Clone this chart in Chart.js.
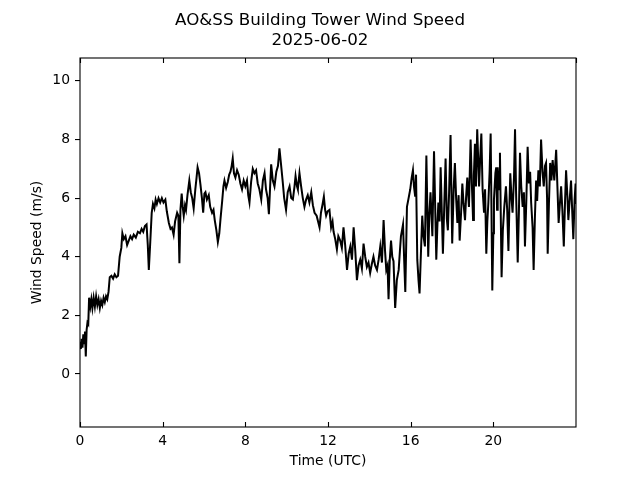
<!DOCTYPE html>
<html>
<head>
<meta charset="utf-8">
<script src="https://cdn.jsdelivr.net/npm/chart.js@4.4.0/dist/chart.umd.min.js"></script>
<style>
html, body { margin: 0; padding: 0; background: #fff; }
</style>
</head>
<body>
<canvas id="myChart" width="640" height="480"></canvas>
<script>
const titleLines = ["AO&SS Building Tower Wind Speed", "2025-06-02"];
const xLabel = "Time (UTC)";
const yLabel = "Wind Speed (m/s)";
const xTickValues = [0, 4, 8, 12, 16, 20, 24];

// time of day in hours (UTC)
const hours = [
    0.00, 0.04, 0.08, 0.12, 0.16, 0.20, 0.24, 0.28, 0.32, 0.36, 0.40, 0.44, 0.50, 0.55, 0.60, 0.66,
    0.72, 0.78, 0.84, 0.90, 0.96, 1.02, 1.08, 1.14, 1.20, 1.26, 1.32, 1.38, 1.44, 1.52, 1.60, 1.68,
    1.76, 1.84, 1.92, 2.00, 2.05, 2.12, 2.20, 2.28, 2.36, 2.44, 2.52, 2.60, 2.70, 2.80, 2.90, 2.98,
    3.06, 3.14, 3.22, 3.28, 3.33, 3.40, 3.47, 3.53, 3.60, 3.66, 3.72, 3.80, 3.88, 3.96, 4.04, 4.13,
    4.20, 4.30, 4.38, 4.45, 4.53, 4.60, 4.70, 4.76, 4.81, 4.86, 4.92, 4.97, 5.02, 5.08, 5.13, 5.20,
    5.29, 5.36, 5.43, 5.50, 5.58, 5.64, 5.69, 5.76, 5.83, 5.90, 5.96, 6.02, 6.07, 6.14, 6.23, 6.30,
    6.39, 6.46, 6.52, 6.60, 6.67, 6.74, 6.80, 6.88, 6.94, 6.99, 7.07, 7.15, 7.22, 7.28, 7.34, 7.39,
    7.45, 7.52, 7.60, 7.68, 7.76, 7.84, 7.92, 8.00, 8.08, 8.14, 8.20, 8.28, 8.36, 8.44, 8.52, 8.60,
    8.68, 8.77, 8.85, 8.93, 9.00, 9.08, 9.14, 9.20, 9.25, 9.33, 9.41, 9.50, 9.58, 9.65, 9.72, 9.81,
    9.88, 9.97, 10.05, 10.14, 10.22, 10.30, 10.38, 10.43, 10.50, 10.54, 10.62, 10.70, 10.78, 10.86, 10.94, 11.02,
    11.10, 11.19, 11.27, 11.35, 11.45, 11.52, 11.59, 11.66, 11.74, 11.80, 11.86, 11.91, 11.98, 12.07, 12.15, 12.22,
    12.27, 12.35, 12.43, 12.50, 12.59, 12.67, 12.75, 12.83, 12.92, 13.00, 13.08, 13.16, 13.24, 13.32, 13.40, 13.48,
    13.56, 13.64, 13.72, 13.80, 13.88, 13.96, 14.04, 14.12, 14.20, 14.28, 14.37, 14.45, 14.53, 14.61, 14.69, 14.76,
    14.82, 14.88, 14.93, 14.99, 15.05, 15.11, 15.17, 15.25, 15.33, 15.42, 15.48, 15.53, 15.58, 15.63, 15.69, 15.74,
    15.82, 15.90, 15.98, 16.05, 16.11, 16.16, 16.22, 16.26, 16.32, 16.38, 16.43, 16.50, 16.56, 16.62, 16.69, 16.76,
    16.85, 16.90, 16.96, 17.05, 17.13, 17.24, 17.29, 17.34, 17.40, 17.45, 17.56, 17.62, 17.69, 17.75, 17.80, 17.86,
    17.93, 18.01, 18.08, 18.14, 18.20, 18.26, 18.32, 18.37, 18.44, 18.50, 18.56, 18.63, 18.68, 18.74, 18.82, 18.90,
    18.96, 19.02, 19.06, 19.11, 19.16, 19.22, 19.31, 19.36, 19.42, 19.48, 19.55, 19.60, 19.66, 19.71, 19.76, 19.82,
    19.87, 19.91, 19.95, 20.00, 20.03, 20.10, 20.14, 20.18, 20.21, 20.28, 20.32, 20.40, 20.46, 20.53, 20.61, 20.67,
    20.73, 20.78, 20.82, 20.88, 20.93, 21.00, 21.05, 21.10, 21.18, 21.24, 21.29, 21.35, 21.42, 21.48, 21.53, 21.60,
    21.66, 21.72, 21.78, 21.83, 21.90, 21.95, 22.01, 22.07, 22.12, 22.18, 22.25, 22.31, 22.38, 22.44, 22.50, 22.55,
    22.60, 22.63, 22.69, 22.75, 22.81, 22.87, 22.95, 23.04, 23.10, 23.16, 23.22, 23.28, 23.34, 23.41, 23.47, 23.52,
    23.58, 23.63, 23.70, 23.76, 23.82, 23.87, 23.93, 23.98, 24.00
];

// wind speed in m/s
const speeds = [
    1.10, 0.85, 1.20, 0.90, 1.35, 1.05, 1.45, 0.60, 1.50, 1.75, 1.70, 2.60, 2.30, 2.55, 2.25, 2.60,
    2.30, 2.65, 2.35, 2.55, 2.25, 2.50, 2.35, 2.60, 2.45, 2.65, 2.55, 2.80, 3.30, 3.35, 3.25, 3.40,
    3.30, 3.35, 4.00, 4.30, 4.80, 4.60, 4.70, 4.40, 4.55, 4.70, 4.60, 4.75, 4.65, 4.85, 4.80, 4.95,
    4.85, 5.05, 5.10, 4.40, 3.55, 4.50, 5.50, 5.80, 5.65, 5.95, 5.80, 6.00, 5.85, 6.00, 5.85, 5.95,
    5.55, 5.15, 4.95, 5.00, 4.75, 5.20, 5.50, 5.40, 3.78, 5.60, 6.15, 5.70, 5.40, 5.75, 5.60, 6.10,
    6.60, 6.20, 6.00, 5.65, 6.30, 6.70, 7.05, 6.85, 6.45, 6.00, 5.50, 6.15, 6.20, 5.95, 6.10, 5.70,
    5.50, 5.60, 5.25, 4.90, 4.50, 4.80, 5.30, 5.90, 6.40, 6.60, 6.35, 6.55, 6.80, 6.90, 7.10, 7.35,
    6.85, 6.70, 6.95, 6.80, 6.50, 6.30, 6.60, 6.40, 6.60, 6.10, 5.85, 6.55, 7.00, 6.85, 6.95, 6.50,
    6.30, 5.95, 6.60, 6.85, 6.30, 6.00, 5.45, 6.40, 7.15, 6.60, 6.40, 6.90, 7.10, 7.70, 7.20, 6.55,
    6.00, 5.60, 6.20, 6.40, 6.00, 5.95, 6.40, 6.75, 6.40, 6.30, 6.85, 6.40, 6.00, 5.70, 5.95, 6.10,
    5.85, 6.20, 5.75, 5.50, 5.40, 5.20, 5.00, 5.50, 5.80, 6.05, 5.60, 5.40, 5.55, 5.60, 5.00, 5.20,
    4.85, 4.60, 4.25, 4.70, 4.55, 4.30, 5.00, 4.40, 3.55, 4.10, 4.35, 3.90, 5.00, 4.20, 3.20, 3.70,
    3.90, 3.60, 4.45, 4.00, 3.65, 3.80, 3.45, 3.75, 4.00, 3.70, 3.55, 3.90, 4.35, 3.80, 5.25, 4.20,
    3.55, 3.70, 2.55, 3.90, 4.55, 4.00, 3.85, 2.25, 3.20, 3.55, 4.20, 4.70, 4.90, 5.10, 3.80, 2.80,
    5.70, 6.00, 6.30, 6.70, 6.95, 6.40, 6.05, 6.80, 3.90, 3.20, 2.75, 4.20, 5.40, 4.70, 4.35, 7.45,
    4.00, 5.40, 6.20, 4.70, 7.60, 3.90, 5.00, 5.85, 5.20, 7.05, 4.10, 5.60, 7.35, 5.30, 4.90, 6.20,
    8.15, 4.45, 6.30, 7.20, 6.00, 5.15, 6.10, 4.55, 5.50, 6.50, 5.80, 5.25, 6.00, 6.70, 5.70, 8.00,
    6.50, 5.25, 6.80, 7.85, 6.40, 8.35, 6.40, 7.30, 8.20, 6.30, 5.50, 6.30, 4.10, 5.20, 5.85, 6.90,
    8.20, 5.60, 2.85, 4.80, 5.95, 6.85, 7.05, 5.60, 7.05, 6.30, 7.55, 3.30, 4.90, 5.70, 6.40, 5.60,
    4.20, 5.80, 6.85, 6.00, 5.50, 6.70, 8.35, 6.20, 3.80, 5.60, 7.55, 6.40, 5.70, 6.20, 4.35, 6.00,
    7.75, 6.50, 6.90, 5.85, 5.00, 3.55, 5.30, 6.60, 5.90, 6.95, 6.40, 8.00, 6.90, 6.40, 7.10, 7.20,
    6.00, 4.10, 5.80, 7.20, 6.60, 7.30, 6.60, 7.65, 6.40, 5.15, 5.80, 6.40, 5.60, 4.35, 5.90, 6.95,
    6.10, 5.25, 6.00, 6.60, 5.50, 4.60, 5.90, 6.50, 5.80
];

const points = hours.map((h, i) => ({ x: h, y: speeds[i] }));
const tickFont = { family: "DejaVu Sans", size: 13.9 };

// title, axes frame and the inward x ticks (bottom and top), like matplotlib
const framePlugin = {
    id: 'frame',
    afterDraw(chart) {
        const { ctx, chartArea: a, scales } = chart;
        ctx.save();
        ctx.strokeStyle = '#000';
        ctx.lineWidth = 1.1;
        ctx.strokeRect(a.left, a.top, a.right - a.left, a.bottom - a.top);
        ctx.beginPath();
        xTickValues.forEach(v => {
            const px = Math.round(scales.x.getPixelForValue(v)) + 0.5;
            if (v < 24) {
                ctx.moveTo(px, a.bottom);
                ctx.lineTo(px, a.bottom - 5);
            }
            ctx.moveTo(px, a.top);
            ctx.lineTo(px, a.top + 5);
        });
        ctx.stroke();

        ctx.fillStyle = '#000';
        ctx.font = '16.7px "DejaVu Sans"';
        ctx.textAlign = 'center';
        ctx.textBaseline = 'alphabetic';
        ctx.fillText(titleLines[0], 320, 24.5);
        ctx.fillText(titleLines[1], 320, 44.5);
        ctx.restore();
    }
};

const chart = new Chart(document.getElementById('myChart'), {
    type: 'line',
    data: {
        datasets: [{
            data: points,
            borderColor: '#000',
            borderWidth: 2,
            pointRadius: 0,
            tension: 0,
            fill: false
        }]
    },
    options: {
        responsive: false,
        animation: false,
        devicePixelRatio: 1,
        layout: { padding: { top: 58, right: 64, left: 0, bottom: 0 } },
        plugins: {
            legend: { display: false },
            tooltip: { enabled: false },
            title: { display: false }
        },
        scales: {
            x: {
                type: 'linear',
                min: 0,
                max: 24,
                afterFit: (scale) => { scale.height = 53; },
                grid: { display: false, drawTicks: false },
                border: { display: false },
                ticks: {
                    stepSize: 4,
                    autoSkip: false,
                    maxRotation: 0,
                    padding: 6,
                    color: '#000',
                    font: tickFont,
                    callback: (v) => (v < 24 ? v : '')
                },
                title: {
                    display: true,
                    text: xLabel,
                    color: '#000',
                    font: tickFont,
                    padding: { top: 0, bottom: 10.5 }
                }
            },
            y: {
                min: -1.81,
                max: 10.78,
                afterFit: (scale) => { scale.width = 80; },
                grid: {
                    display: true,
                    drawOnChartArea: false,
                    drawTicks: true,
                    tickLength: 5,
                    color: '#000',
                    lineWidth: 1.1
                },
                border: { display: false },
                ticks: {
                    stepSize: 2,
                    includeBounds: false,
                    padding: 5,
                    color: '#000',
                    font: tickFont
                },
                title: {
                    display: true,
                    text: yLabel,
                    color: '#000',
                    font: tickFont,
                    padding: { top: 29, bottom: 0 }
                }
            }
        }
    },
    plugins: [framePlugin]
});
</script>
</body>
</html>
